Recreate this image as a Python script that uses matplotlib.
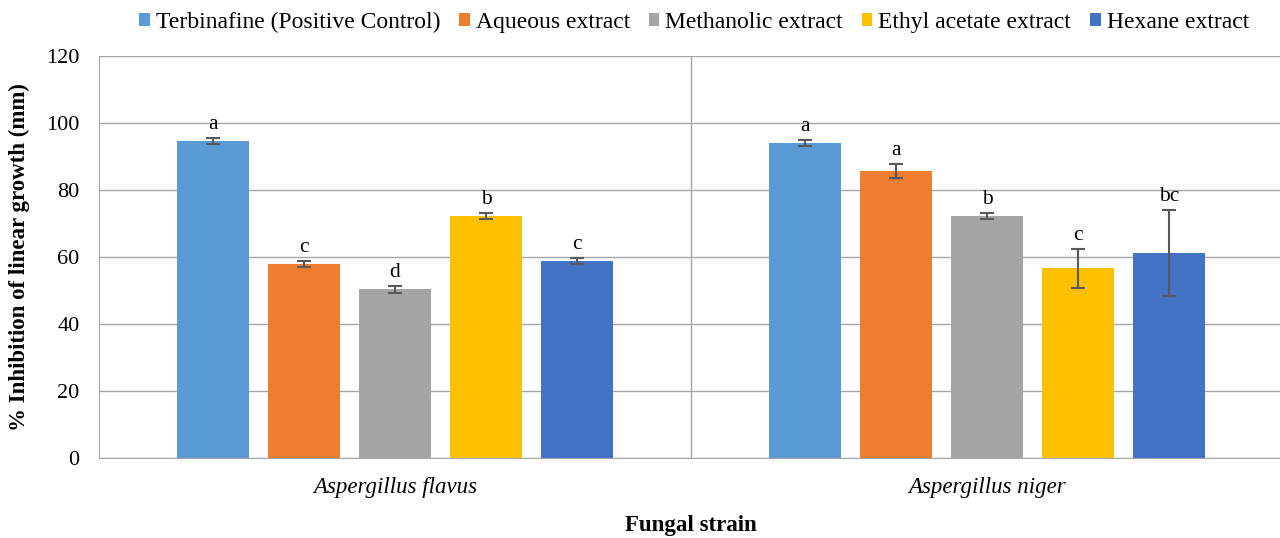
import matplotlib
matplotlib.use("Agg")
import matplotlib.pyplot as plt
import numpy as np

categories = ["Aspergillus flavus", "Aspergillus niger"]
series = ["Terbinafine (Positive Control)", "Aqueous extract", "Methanolic extract",
          "Ethyl acetate extract", "Hexane extract"]
colors = ["#5B9BD5", "#ED7D31", "#A5A5A5", "#FFC000", "#4472C4"]
values = [
    [94.6, 94.0],
    [57.9, 85.7],
    [50.4, 72.2],
    [72.2, 56.6],
    [58.8, 61.2],
]
errors = [
    [1.0, 1.0],
    [1.0, 2.0],
    [1.0, 1.0],
    [1.0, 5.9],
    [1.0, 12.8],
]
letters = [
    ["a", "a"],
    ["c", "a"],
    ["d", "b"],
    ["b", "c"],
    ["c", "bc"],
]

plt.rcParams['font.family'] = ['Liberation Serif', 'DejaVu Serif']
fig = plt.figure(figsize=(12.8, 5.38), dpi=100)
ax = fig.add_axes([99/1280, 1 - 458/538, (1283-99)/1280, (458-56)/538])

x = np.arange(len(categories))
w = 0.1216
step = 0.1537
for i, (s, c) in enumerate(zip(series, colors)):
    pos = x + (i - 2) * step
    ax.bar(pos, values[i], width=w, color=c, label=s, zorder=3)
    ax.errorbar(pos, values[i], yerr=errors[i], fmt='none', ecolor='#595959',
                elinewidth=1.5, capsize=5, capthick=1.5, zorder=4)
    for j in range(len(categories)):
        top = values[i][j] + errors[i][j]
        ax.text(pos[j], top + 1.2, letters[i][j], ha='center', va='bottom',
                fontsize=15.5, zorder=5)

ax.set_xlim(-0.5, 1.5)
ax.set_ylim(0, 120)
ax.set_yticks(range(0, 121, 20))
ax.yaxis.grid(True, color='#A6A6A6', linewidth=1, zorder=0)
ax.set_xticks(x)
ax.set_xticklabels(categories, fontstyle='italic', fontsize=16.5)
ax.tick_params(axis='x', length=0, pad=14)
ax.tick_params(axis='y', length=0, labelsize=16, pad=14)
ax.axvline(0.5, color='#A6A6A6', linewidth=1, zorder=1)
for side in ['top', 'right']:
    ax.spines[side].set_visible(False)
ax.spines['left'].set_color('#A6A6A6')
ax.spines['bottom'].set_color('#A6A6A6')

ax.set_ylabel("% Inhibition of linear growth (mm)", fontweight='bold', fontsize=16.5, labelpad=12)
ax.set_xlabel("Fungal strain", fontweight='bold', fontsize=16.5, labelpad=12)

leg = fig.legend(loc='center', bbox_to_anchor=(694/1280, 1 - 22/538), ncol=5, frameon=False,
                 fontsize=17, handlelength=0.45, handleheight=0.45, handletextpad=0.25,
                 columnspacing=0.8)

fig.savefig("out.png", dpi=100)
